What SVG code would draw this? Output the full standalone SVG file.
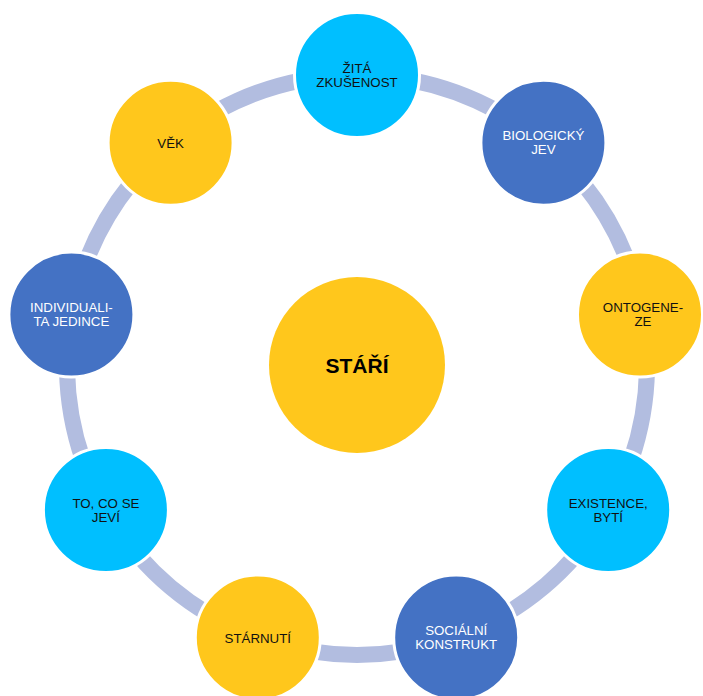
<svg xmlns="http://www.w3.org/2000/svg" width="703" height="696" viewBox="0 0 703 696">
<style>
.ring{fill:none;stroke:#B2BDE0;stroke-width:16}
.node{stroke:#FFFFFF;stroke-width:3}
.cyan{fill:#00BFFF}
.blue{fill:#4472C4}
.gold{fill:#FFC71C}
text{font-family:"Liberation Sans",Arial,sans-serif;font-size:13.3px;text-anchor:middle}
.dk{fill:#111111}
.lt{fill:#FFFFFF}
.center{font-size:21px;font-weight:bold;fill:#000000}
</style>
<rect width="703" height="696" fill="#FFFFFF"/>
<g id="connectors">
<path class="ring" d="M412.34 80.33 A290 290 0 0 1 497.59 111.36"/>
<path class="ring" d="M582.37 182.50 A290 290 0 0 1 627.74 261.07"/>
<path class="ring" d="M646.96 370.06 A290 290 0 0 1 631.20 459.41"/>
<path class="ring" d="M575.87 555.26 A290 290 0 0 1 506.36 613.58"/>
<path class="ring" d="M402.36 651.43 A290 290 0 0 1 311.64 651.43"/>
<path class="ring" d="M207.64 613.58 A290 290 0 0 1 138.13 555.26"/>
<path class="ring" d="M82.80 459.41 A290 290 0 0 1 67.04 370.06"/>
<path class="ring" d="M86.26 261.07 A290 290 0 0 1 131.63 182.50"/>
<path class="ring" d="M216.41 111.36 A290 290 0 0 1 301.66 80.33"/>
</g>
<g id="center">
<circle cx="357" cy="365" r="88" class="gold"/>
<text x="357" y="372.5" class="center">STÁŘÍ</text>
</g>
<g id="zita-zkusenost">
<circle cx="357" cy="75" r="62.5" class="node cyan"/>
<text x="357" y="72.5" class="dk">ŽITÁ</text>
<text x="357" y="86.5" class="dk">ZKUŠENOST</text>
</g>
<g id="biologicky-jev">
<circle cx="543.4" cy="142.8" r="62.5" class="node blue"/>
<text x="543.4" y="140.3" class="lt">BIOLOGICKÝ</text>
<text x="543.4" y="154.3" class="lt">JEV</text>
</g>
<g id="ontogeneze">
<circle cx="640" cy="314.6" r="62.5" class="node gold"/>
<text x="643" y="312.1" class="dk">ONTOGENE-</text>
<text x="643" y="326.1" class="dk">ZE</text>
</g>
<g id="existence-byti">
<circle cx="608.2" cy="510" r="62.5" class="node cyan"/>
<text x="608.2" y="507.5" class="dk">EXISTENCE,</text>
<text x="608.2" y="521.5" class="dk">BYTÍ</text>
</g>
<g id="socialni-konstrukt">
<circle cx="456.2" cy="637.5" r="62.5" class="node blue"/>
<text x="456.2" y="635" class="lt">SOCIÁLNÍ</text>
<text x="456.2" y="649" class="lt">KONSTRUKT</text>
</g>
<g id="starnuti">
<circle cx="257.8" cy="637.5" r="62.5" class="node gold"/>
<text x="257.8" y="642.5" class="dk">STÁRNUTÍ</text>
</g>
<g id="to-co-se-jevi">
<circle cx="105.9" cy="510" r="62.5" class="node cyan"/>
<text x="105.9" y="507.5" class="dk">TO, CO SE</text>
<text x="105.9" y="521.5" class="dk">JEVÍ</text>
</g>
<g id="individualita-jedince">
<circle cx="71.4" cy="314.6" r="62.5" class="node blue"/>
<text x="71.4" y="312.1" class="lt">INDIVIDUALI-</text>
<text x="71.4" y="326.1" class="lt">TA JEDINCE</text>
</g>
<g id="vek">
<circle cx="170.6" cy="142.8" r="62.5" class="node gold"/>
<text x="170.6" y="147.8" class="dk">VĚK</text>
</g>
</svg>
